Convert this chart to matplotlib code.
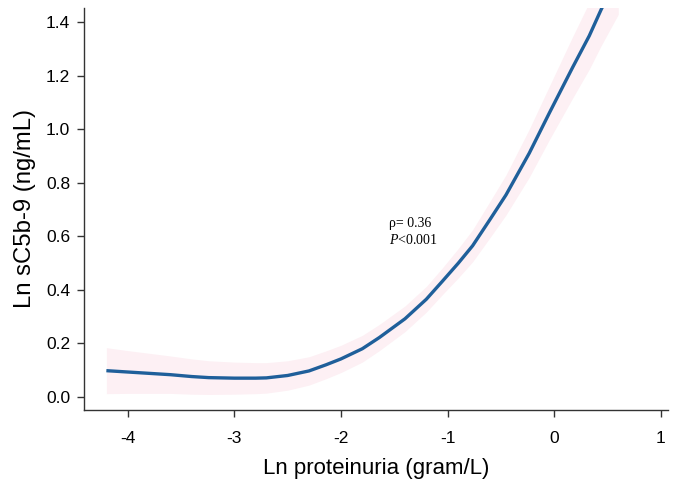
import numpy as np
import matplotlib
matplotlib.use("Agg")
import matplotlib.pyplot as plt

plt.rcParams["mathtext.fontset"] = "custom"
plt.rcParams["mathtext.rm"] = "Liberation Serif"
plt.rcParams["mathtext.it"] = "Liberation Serif:italic"

# data
x_vals = [-4.2, -4.0, -3.8, -3.6, -3.4, -3.24, -3.0, -2.8, -2.7, -2.5, -2.3, -2.14, -2.0, -1.8, -1.64,
          -1.4, -1.2, -1.05, -0.9, -0.766, -0.6, -0.453, -0.235, -0.047, 0.172, 0.328, 0.438, 0.6]
y_vals = [0.098, 0.093, 0.088, 0.083, 0.076, 0.072, 0.070, 0.070, 0.071, 0.080, 0.097, 0.120, 0.142, 0.180, 0.222,
          0.292, 0.365, 0.432, 0.500, 0.565, 0.665, 0.755, 0.911, 1.061, 1.232, 1.350, 1.447, 1.580]
half_w = [0.086, 0.080, 0.075, 0.070, 0.066, 0.063, 0.060, 0.058, 0.057, 0.055, 0.053, 0.052, 0.051, 0.050, 0.049,
          0.048, 0.048, 0.050, 0.055, 0.060, 0.068, 0.075, 0.090, 0.100, 0.115, 0.125, 0.135, 0.150]

x_ticks = [-4, -3, -2, -1, 0, 1]
y_ticks = [0.0, 0.2, 0.4, 0.6, 0.8, 1.0, 1.2, 1.4]

x = np.array(x_vals)
y = np.array(y_vals)
hw = np.array(half_w)

fig = plt.figure(figsize=(6.75, 4.9), dpi=100)
ax = fig.add_axes([0.1244, 0.1633, 0.8652, 0.8204])

ax.fill_between(x, y - hw, y + hw, color="#fdf0f4", lw=0, zorder=1)
ax.plot(x, y, color="#1f5f9a", lw=2.4, zorder=2, solid_capstyle="butt", solid_joinstyle="round")

ax.set_xlim(-4.41, 1.066)
ax.set_ylim(-0.049, 1.454)
ax.set_xticks(x_ticks)
ax.set_xticklabels([str(t) for t in x_ticks])
ax.set_yticks(y_ticks)
ax.set_yticklabels([f"{t:.1f}" for t in y_ticks])

for s in ["top", "right"]:
    ax.spines[s].set_visible(False)
for s in ["left", "bottom"]:
    ax.spines[s].set_color("#333333")
    ax.spines[s].set_linewidth(1.0)

font = "Liberation Sans"
ax.tick_params(axis="both", direction="out", length=5, width=1, color="#333333",
               labelsize=12.5, pad=5)
for lab in ax.get_xticklabels() + ax.get_yticklabels():
    lab.set_fontfamily(font)
ax.tick_params(axis="x", pad=10)

ax.set_xlabel("Ln proteinuria (gram/L)", fontsize=16, family=font, labelpad=9)
ax.set_ylabel("Ln sC5b-9 (ng/mL)", fontsize=17.2, family=font, labelpad=7)

ax.text(-1.55, 0.672, "ρ= 0.36", fontsize=10, family="Liberation Serif", va="top", ha="left")
ax.text(-1.55, 0.612, r"$\mathit{P}$<0.001", fontsize=10, family="Liberation Serif", va="top", ha="left")

fig.savefig("out.png", dpi=100)
